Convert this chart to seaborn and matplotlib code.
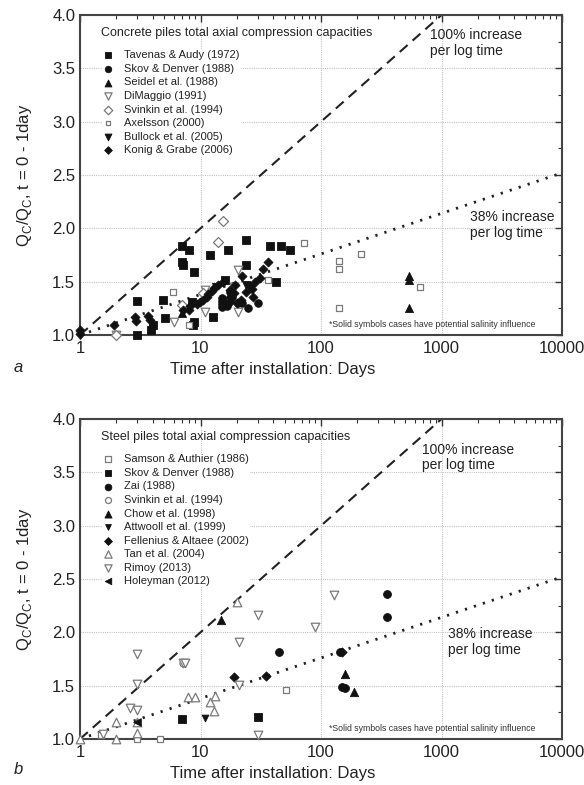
import matplotlib
matplotlib.use("Agg")
import matplotlib.pyplot as plt
import matplotlib.ticker as mticker
import seaborn as sns
import numpy as np

sns.set_theme(style="white")
plt.rcParams['font.family'] = ['Liberation Sans', 'DejaVu Sans']
plt.rcParams['mathtext.fontset'] = 'custom'
plt.rcParams['mathtext.rm'] = 'Liberation Sans'

# ---------------- Concrete piles (panel a) ----------------
tavenas_x = [2.95, 2.95, 3.9, 4.0, 4.9, 5.1, 7.0, 8.1, 7.0, 7.2, 8.8, 8.5, 8.6, 8.9, 12.0, 12.8, 16, 17, 24.0, 24.0, 37.8, 42.4, 47, 55]
tavenas_y = [1.32, 1.0, 1.05, 1.09, 1.33, 1.16, 1.83, 1.80, 1.68, 1.66, 1.59, 1.31, 1.09, 1.12, 1.75, 1.17, 1.52, 1.80, 1.89, 1.66, 1.83, 1.50, 1.83, 1.80]
skov_c_x = [15, 15, 15, 15, 16.5, 17.5, 18.4, 20.5, 22.3, 25, 30]
skov_c_y = [1.35, 1.32, 1.29, 1.26, 1.27, 1.40, 1.36, 1.30, 1.30, 1.25, 1.30]
seidel_x = [7.0, 535, 535, 535]
seidel_y = [1.21, 1.55, 1.52, 1.25]
dimaggio_x = [1.0, 2.0, 6.0, 10.9, 10.8, 18.8, 20.6, 20.6]
dimaggio_y = [1.0, 1.0, 1.12, 1.42, 1.22, 1.45, 1.61, 1.22]
svinkin_c_x = [2.0, 7.0, 10.5, 14.0, 15.4]
svinkin_c_y = [1.0, 1.28, 1.39, 1.875, 2.07]
axelsson_x = [5.9, 8.0, 36.5, 72, 142, 142, 142, 216, 665]
axelsson_y = [1.40, 1.09, 1.52, 1.86, 1.69, 1.62, 1.25, 1.76, 1.45]
bullock_x = [13.5, 24]
bullock_y = [1.45, 1.47]
konig_x = [1.0, 1.0, 1.9, 2.85, 2.9, 3.7, 3.8, 7.2, 8.2, 8.0, 9.3, 9.9, 10.4, 11.3, 11.6, 12.4, 13.0, 14.0, 15.4,
           16.3, 17.6, 17.6, 17.6, 19.0, 19.5, 20.2, 22.0, 21.6, 24.0, 25.7, 27.4, 26.7, 28.3, 31.0, 33.0, 36.3]
konig_y = [1.05, 1.01, 1.09, 1.17, 1.13, 1.18, 1.14, 1.23, 1.27, 1.23, 1.29, 1.31, 1.33, 1.36, 1.38, 1.41, 1.44, 1.47, 1.50,
           1.30, 1.42, 1.36, 1.31, 1.39, 1.47, 1.30, 1.55, 1.33, 1.40, 1.46, 1.36, 1.43, 1.50, 1.53, 1.62, 1.68]

# ---------------- Steel piles (panel b) ----------------
samson_x = [1.5, 3.0, 4.6, 51]
samson_y = [1.04, 1.0, 1.0, 1.46]
skov_s_x = [7.0, 29.8]
skov_s_y = [1.185, 1.21]
zai_x = [44.9, 145, 149, 158, 355, 355]
zai_y = [1.82, 1.82, 1.49, 1.48, 2.36, 2.14]
svinkin_s_x = [7.2]
svinkin_s_y = [1.71]
chow_x = [14.8, 158, 188]
chow_y = [2.12, 1.61, 1.44]
attwooll_x = [10.8]
attwooll_y = [1.20]
fellenius_x = [18.9, 34.8, 149]
fellenius_y = [1.58, 1.59, 1.82]
tan_x = [1.0, 2.0, 1.99, 2.99, 2.99, 7.9, 9.0, 11.9, 13.1, 12.9, 20]
tan_y = [1.0, 1.0, 1.16, 1.16, 1.055, 1.39, 1.39, 1.35, 1.40, 1.26, 2.28]
rimoy_x = [1.55, 2.6, 2.99, 2.99, 2.99, 7.1, 7.4, 20.9, 20.9, 29.8, 29.8, 89, 127]
rimoy_y = [1.05, 1.29, 1.27, 1.52, 1.80, 1.71, 1.71, 1.91, 1.51, 2.16, 1.04, 2.05, 2.35]
holeyman_x = [2.99]
holeyman_y = [1.16]

# reference trend lines (endpoints)
line100_x = [1, 1000]
line100_y = [1.0, 4.0]
line38_x = [1, 10000]
line38_y = [1.0, 2.52]

x_ticks = [1, 10, 100, 1000, 10000]
y_ticks = [1.0, 1.5, 2.0, 2.5, 3.0, 3.5, 4.0]

BLACK = "#111111"
OPEN_EDGE = "#7a7a7a"

concrete_series = [
    ("Tavenas & Audy (1972)", tavenas_x, tavenas_y, "s", True, 30),
    ("Skov & Denver (1988)", skov_c_x, skov_c_y, "o", True, 30),
    ("Seidel et al. (1988)", seidel_x, seidel_y, "^", True, 34),
    ("DiMaggio (1991)", dimaggio_x, dimaggio_y, "v", False, 38),
    ("Svinkin et al. (1994)", svinkin_c_x, svinkin_c_y, "D", False, 26),
    ("Axelsson (2000)", axelsson_x, axelsson_y, "s", False, 15),
    ("Bullock et al. (2005)", bullock_x, bullock_y, "v", True, 34),
    ("Konig & Grabe (2006)", konig_x, konig_y, "D", True, 21),
]
steel_series = [
    ("Samson & Authier (1986)", samson_x, samson_y, "s", False, 24),
    ("Skov & Denver (1988)", skov_s_x, skov_s_y, "s", True, 28),
    ("Zai (1988)", zai_x, zai_y, "o", True, 32),
    ("Svinkin et al. (1994)", svinkin_s_x, svinkin_s_y, "o", False, 26),
    ("Chow et al. (1998)", chow_x, chow_y, "^", True, 36),
    ("Attwooll et al. (1999)", attwooll_x, attwooll_y, "v", True, 24),
    ("Fellenius & Altaee (2002)", fellenius_x, fellenius_y, "D", True, 22),
    ("Tan et al. (2004)", tan_x, tan_y, "^", False, 38),
    ("Rimoy (2013)", rimoy_x, rimoy_y, "v", False, 38),
    ("Holeyman (2012)", holeyman_x, holeyman_y, "<", True, 30),
]

fig = plt.figure(figsize=(5.84, 7.85), dpi=100)
ax_a = fig.add_axes([80/584, 1-335/785, 482/584, 320/785])
ax_b = fig.add_axes([80/584, 1-739/785, 482/584, 320/785])


def style_axes(ax):
    ax.set_xscale("log")
    ax.set_xlim(1, 10000)
    ax.set_ylim(1.0, 4.0)
    ax.set_xticks(x_ticks)
    ax.xaxis.set_major_formatter(mticker.FuncFormatter(lambda v, p: "%g" % v))
    ax.xaxis.set_minor_locator(mticker.LogLocator(base=10, subs=np.arange(2, 10), numticks=20))
    ax.xaxis.set_minor_formatter(mticker.NullFormatter())
    ax.set_yticks(y_ticks)
    ax.yaxis.set_major_formatter(mticker.FormatStrFormatter("%.1f"))
    ax.yaxis.set_minor_locator(mticker.MultipleLocator(0.25))
    ax.tick_params(which="both", direction="in", top=True, right=True, colors="#333333",
                   labelcolor="#222222", labelsize=12)
    ax.tick_params(which="major", length=5, width=1)
    ax.tick_params(which="minor", length=3, width=0.8)
    ax.tick_params(axis="x", pad=4)
    for sp in ax.spines.values():
        sp.set_color("#444444")
        sp.set_linewidth(1.5)
    ax.grid(True, which="major", color="#c4c4c4", linestyle=(0, (1, 1)), linewidth=0.8)
    ax.set_axisbelow(True)
    ax.set_xlabel("Time after installation: Days", fontsize=12, color="#222222")
    ax.xaxis.set_label_coords(0.40, -0.108)
    ax.xaxis.label.set_va("center")
    ax.set_ylabel(r"Q$_\mathregular{C}$/Q$_\mathregular{C}$, t = 0 - 1day", fontsize=12, color="#222222")
    ax.yaxis.set_label_coords(-0.095, 0.5)


def draw(ax, series, title, t100, t38):
    style_axes(ax)
    sns.lineplot(x=line100_x, y=line100_y, ax=ax, color="#222222", linewidth=1.5,
                 linestyle=(0, (5, 3.2)), zorder=2)
    sns.lineplot(x=line38_x, y=line38_y, ax=ax, color="#222222", linewidth=2.0,
                 linestyle=(0, (0.8, 2.6)), zorder=2)
    for label, xs, ys, mk, filled, s in series:
        if filled:
            sns.scatterplot(x=xs, y=ys, ax=ax, marker=mk, s=s, facecolor=BLACK,
                            edgecolor=BLACK, linewidth=0.6, label=label, zorder=3, clip_on=False)
        else:
            sns.scatterplot(x=xs, y=ys, ax=ax, marker=mk, s=s, facecolor="white",
                            edgecolor=OPEN_EDGE, linewidth=0.9, label=label, zorder=3, clip_on=False)
    leg = ax.legend(loc="upper left", bbox_to_anchor=(0.045, 0.893), borderaxespad=0, borderpad=0.1,
                    frameon=True, fancybox=False, edgecolor="none", facecolor="white", framealpha=1,
                    fontsize=8, handlelength=1.0, handletextpad=0.9, labelspacing=0.32, markerscale=0.85)
    for t in leg.get_texts():
        t.set_color("#222222")
    ax.text(0.043, 0.944, title, transform=ax.transAxes, fontsize=9, color="#222222", va="center")
    ax.text(t100[0], t100[1], "100% increase\nper log time", transform=ax.transAxes,
            fontsize=10, color="#222222", va="top", ha="left", linespacing=1.15)
    ax.text(t38[0], t38[1], "38% increase\nper log time", transform=ax.transAxes,
            fontsize=10, color="#222222", va="top", ha="left", linespacing=1.15)
    ax.text(0.517, 0.033, "*Solid symbols cases have potential salinity influence",
            transform=ax.transAxes, fontsize=6.3, color="#333333", va="center", ha="left")


draw(ax_a, concrete_series, "Concrete piles total axial compression capacities", (0.726, 0.958), (0.809, 0.39))
draw(ax_b, steel_series, "Steel piles total axial compression capacities", (0.709, 0.926), (0.764, 0.35))

fig.text(14/584, 1-368/785, "a", fontsize=12, style="italic", color="#222222", va="center", ha="left")
fig.text(14/584, 1-770/785, "b", fontsize=12, style="italic", color="#222222", va="center", ha="left")

fig.savefig("out.png", dpi=100, facecolor="white")
